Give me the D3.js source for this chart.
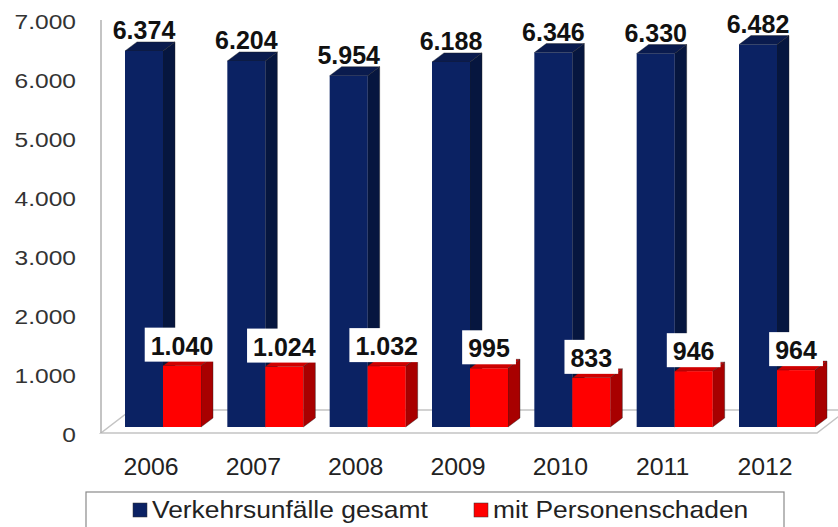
<!DOCTYPE html>
<html lang="de">
<head>
  <meta charset="UTF-8">
  <script src="https://d3js.org/d3.v7.min.js"></script>
  <style>
    body { margin: 0; background: white; }
    text { font-family: "Liberation Sans", Arial, sans-serif; }
  </style>
</head>
<body>
  <svg id="chart" width="838" height="527"></svg>
  <script>
    // data
    var years = ["2006", "2007", "2008", "2009", "2010", "2011", "2012"];
    var gesamt = [6374, 6204, 5954, 6188, 6346, 6330, 6482];
    var personen = [1040, 1024, 1032, 995, 833, 946, 964];
    var yTicks = [0, 1000, 2000, 3000, 4000, 5000, 6000, 7000];
    var seriesNames = ["Verkehrsunfälle gesamt", "mit Personenschaden"];

    var de = d3.formatLocale({ decimal: ",", thousands: ".", grouping: [3], currency: ["", " €"] });
    var fmt = de.format(",d");

    var svg = d3.select("#chart");

    var x = d3.scalePoint().domain(years).range([125, 739]);
    var y = d3.scaleLinear().domain([0, 7000]).range([427, 14]);

    var barW = 38;   // front width of each bar
    var dx = 12, dy = -9; // 3d depth

    var colors = {
      blue: { front: "#0b2263", side: "#06163f", top: "#0a1b4e" },
      red: { front: "#ff0000", side: "#a80000", top: "#cf0000" }
    };

    function pts(arr) { return arr.map(p => p.join(",")).join(" "); }

    // floor
    svg.append("polygon")
      .attr("points", pts([[101, 433], [817, 433], [847, 410], [131, 410]]))
      .attr("fill", "white")
      .attr("stroke", "#c4c4c4")
      .attr("stroke-width", 1.5);

    // vertical axis line
    svg.append("line")
      .attr("x1", 101).attr("x2", 101)
      .attr("y1", 20).attr("y2", 433)
      .attr("stroke", "#b0b0b0").attr("stroke-width", 1.5);

    // y axis labels
    var yAxis = d3.axisLeft(y).tickValues(yTicks).tickFormat(fmt).tickSize(0).tickPadding(0);
    var gy = svg.append("g").attr("transform", "translate(76,8)").call(yAxis);
    gy.select(".domain").remove();
    gy.selectAll("text")
      .style("font-family", "'Liberation Sans', Arial, sans-serif")
      .style("font-size", "21px")
      .attr("fill", "#333")
      .attr("transform", "scale(1.17,1)");

    function drawBar(x0, v, c) {
      var top = y(v), bottom = y(0);
      var g = svg.append("g");
      g.append("polygon")
        .attr("points", pts([[x0 + barW, top], [x0 + barW + dx, top + dy], [x0 + barW + dx, bottom + dy], [x0 + barW, bottom]]))
        .attr("fill", c.side).attr("stroke", "#222").attr("stroke-width", 0.4);
      g.append("polygon")
        .attr("points", pts([[x0, top], [x0 + dx, top + dy], [x0 + barW + dx, top + dy], [x0 + barW, top]]))
        .attr("fill", c.top).attr("stroke", "#222").attr("stroke-width", 0.4);
      g.append("rect")
        .attr("x", x0).attr("y", top)
        .attr("width", barW).attr("height", bottom - top)
        .attr("fill", c.front);
    }

    years.forEach(function (yr, i) {
      drawBar(x(yr), gesamt[i], colors.blue);
    });
    years.forEach(function (yr, i) {
      drawBar(x(yr) + barW, personen[i], colors.red);
    });

    // value labels, blue
    years.forEach(function (yr, i) {
      svg.append("text")
        .attr("x", x(yr) + barW / 2)
        .attr("y", y(gesamt[i]) - 12)
        .attr("text-anchor", "middle")
        .style("font-size", "25px")
        .style("font-weight", "bold")
        .attr("fill", "#111")
        .text(fmt(gesamt[i]));
    });

    // value labels, red with white box
    years.forEach(function (yr, i) {
      var cx = x(yr) + barW + barW / 2;
      var base = y(personen[i]) - 11;
      var t = svg.append("text")
        .attr("x", cx)
        .attr("y", base)
        .attr("text-anchor", "middle")
        .style("font-size", "25px")
        .style("font-weight", "bold")
        .attr("fill", "#111")
        .text(fmt(personen[i]));
      var bb = t.node().getBBox();
      svg.insert("rect", function () { return t.node(); })
        .attr("x", bb.x - 6).attr("y", base - 27)
        .attr("width", bb.width + 12).attr("height", 34)
        .attr("fill", "white");
    });

    // x labels
    years.forEach(function (yr) {
      svg.append("text")
        .attr("transform", "translate(" + (x(yr) + 26) + ",475) scale(1.08,1)")
        .attr("text-anchor", "middle")
        .style("font-size", "23px")
        .attr("fill", "#222")
        .text(yr);
    });

    // legend
    svg.append("rect")
      .attr("x", 86).attr("y", 492)
      .attr("width", 698).attr("height", 50)
      .attr("fill", "white").attr("stroke", "#8a8a8a").attr("stroke-width", 1.2);
    var legendX = [133, 474];
    var legendCol = [colors.blue.front, colors.red.front];
    seriesNames.forEach(function (name, i) {
      svg.append("rect")
        .attr("x", legendX[i]).attr("y", 503)
        .attr("width", 14).attr("height", 14)
        .attr("fill", legendCol[i]).attr("stroke", "#333").attr("stroke-width", 0.5);
      svg.append("text")
        .attr("transform", "translate(" + (legendX[i] + 19) + ",518) scale(1.1,1)")
        .style("font-size", "24px")
        .attr("fill", "#222")
        .text(name);
    });
  </script>
</body>
</html>
